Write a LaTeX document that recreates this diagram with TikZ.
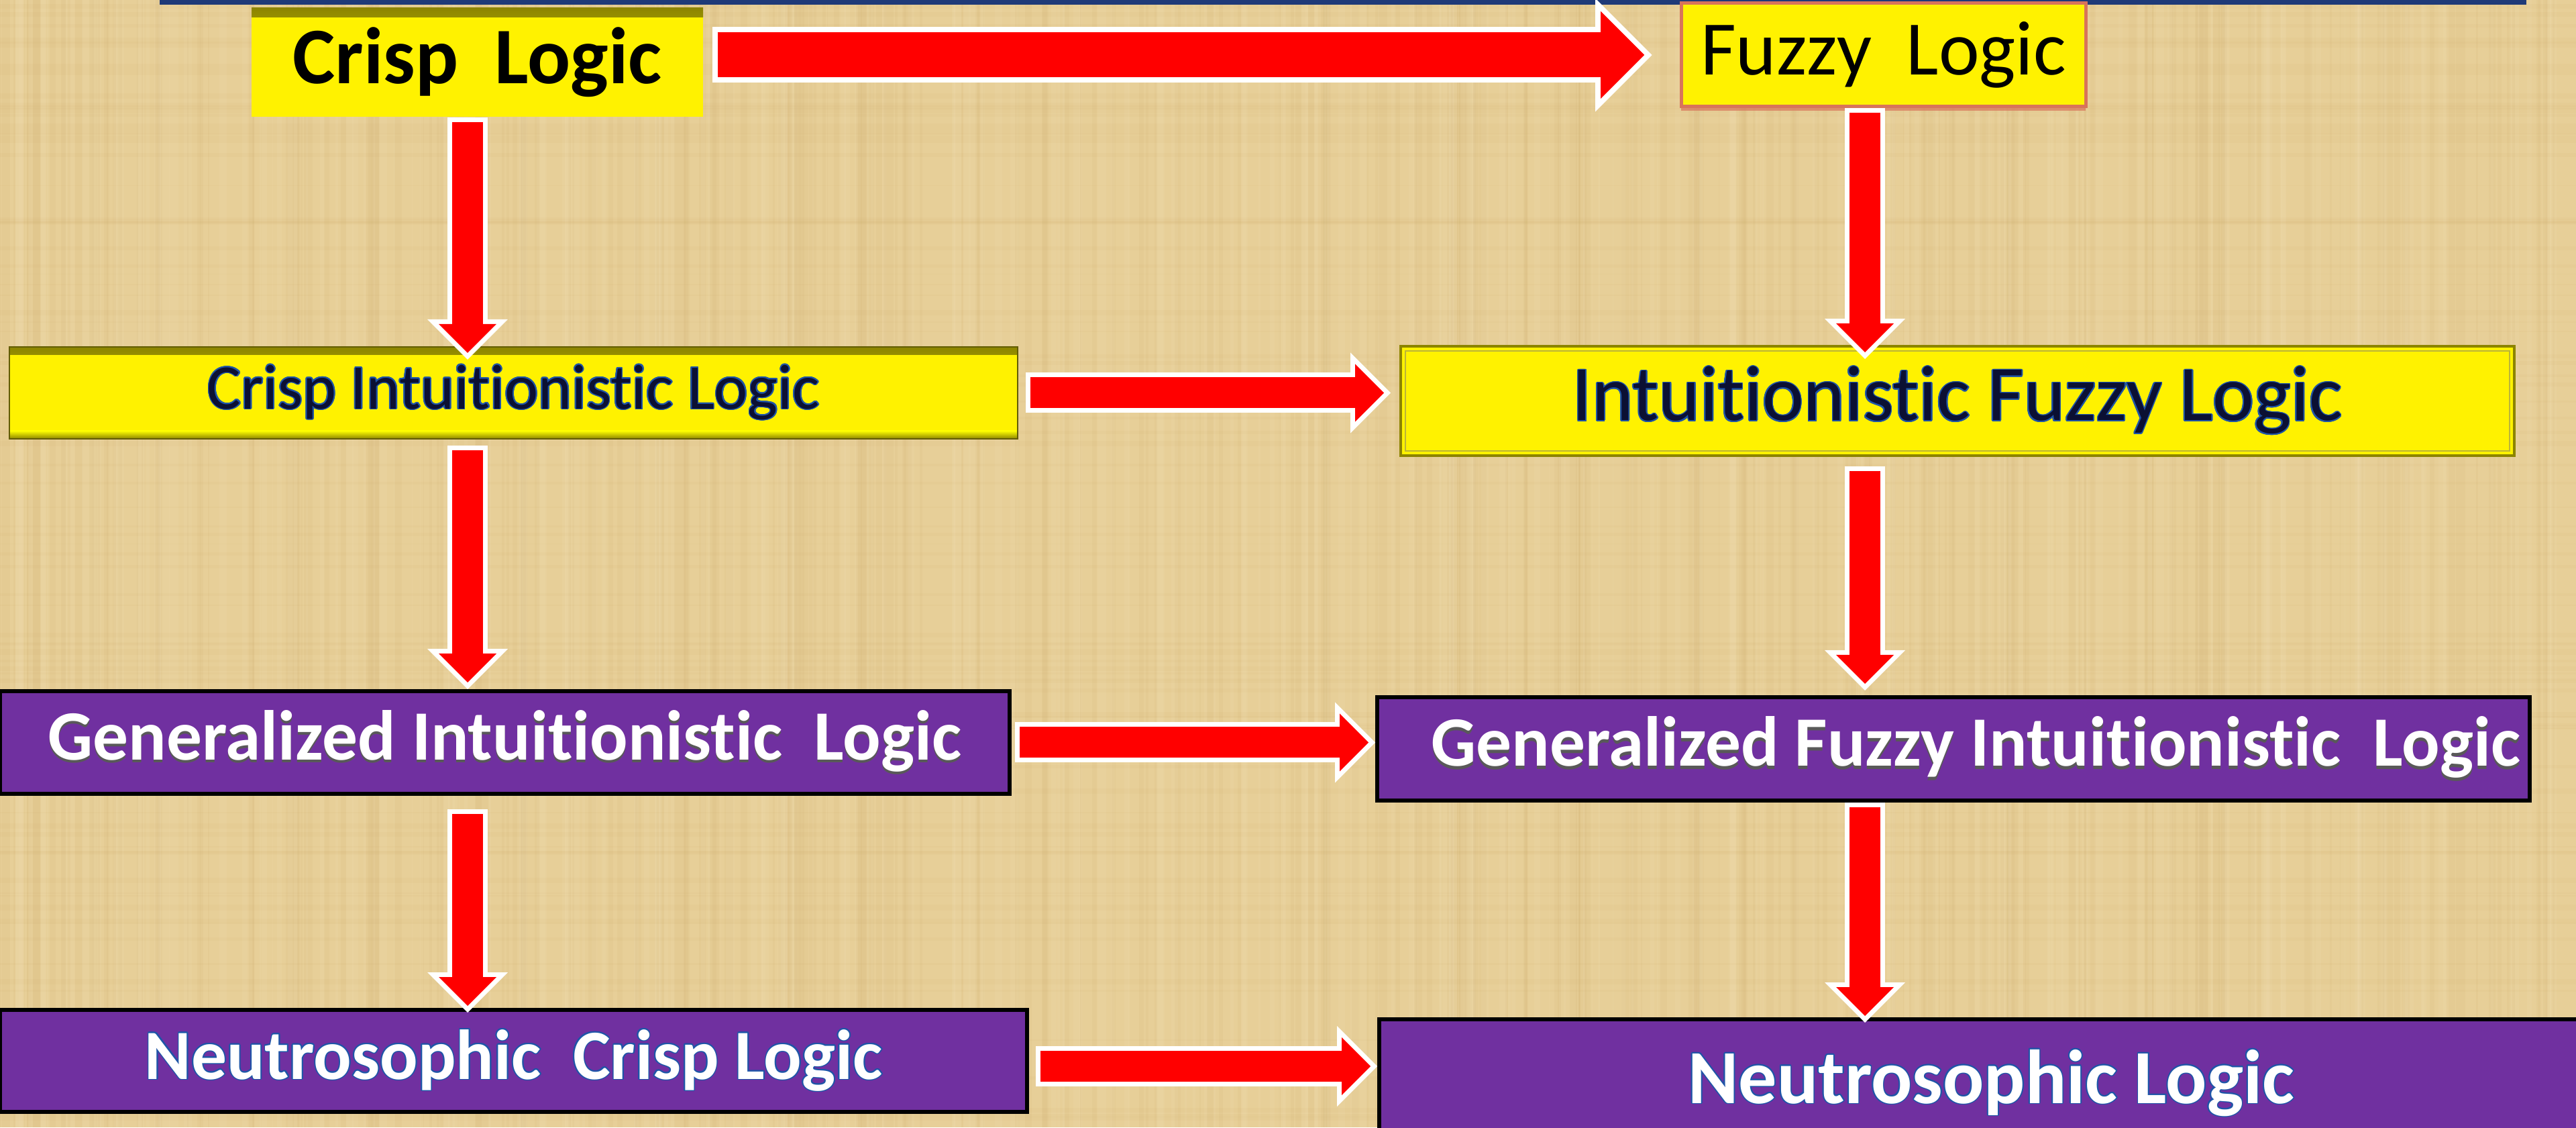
\documentclass[tikz,border=0pt]{standalone}
\usepackage{fontspec}
\setmainfont{Carlito}[Ligatures={NoCommon,TeX}]
\usepackage{contour}
\usetikzlibrary{arrows.meta,calc,positioning,shadows}
\definecolor{papyrus}{HTML}{E7CF98}
\definecolor{papyrusdark}{HTML}{C9A35E}
\definecolor{papyruslight}{HTML}{F5E6C2}
\definecolor{logicpurple}{HTML}{7030A0}
\definecolor{titlenavy}{HTML}{1F3A78}
\definecolor{textnavy}{HTML}{0B1033}
\definecolor{glowblue}{HTML}{1F55A8}
\definecolor{edgeolive}{HTML}{8C8400}
\definecolor{glowred}{HTML}{D8745A}
\contourlength{0.5pt}
\newcommand{\embossed}[1]{\makebox[0pt][l]{\raisebox{-1.2pt}{\color{gray!70!black}#1}}#1}

\begin{document}
\begin{tikzpicture}[
  box/.style={inner sep=0pt,align=center},
  ybox/.style={box,fill=yellow},
  pbox/.style={box,fill=logicpurple,draw=black,line width=0.06cm,text=white},
  topbevel/.style={path picture={
    \shade[top color=edgeolive,bottom color=yellow]
      (path picture bounding box.north west) rectangle
      ([yshift=-0.14cm]path picture bounding box.north east);}},
  bevel/.style={draw=edgeolive!70!black,line width=0.02cm,path picture={
    \shade[top color=edgeolive,bottom color=yellow]
      (path picture bounding box.north west) rectangle
      ([yshift=-0.12cm]path picture bounding box.north east);
    \shade[bottom color=edgeolive,top color=yellow]
      (path picture bounding box.south west) rectangle
      ([yshift=0.12cm]path picture bounding box.south east);}},
  inset/.style={draw=edgeolive,line width=0.04cm,path picture={
    \draw[yellow!70!black,line width=0.02cm]
      ([shift={(0.07,-0.07)}]path picture bounding box.north west) rectangle
      ([shift={(-0.07,0.07)}]path picture bounding box.south east);}},
  arr/.style={draw=red,line width=0.46cm,
    -{Triangle[width=0.86cm,length=0.43cm,line width=0pt]},
    shorten >=0.1cm,shorten <=0.07cm,
    preaction={draw=white,line width=0.6cm,
      -{Triangle[width=1.2cm,length=0.6cm,line width=0pt]},
      shorten >=0pt,shorten <=0pt}},
  bigarr/.style={draw=red,line width=0.67cm,
    -{Triangle[width=1.3cm,length=0.65cm,line width=0pt]},
    shorten >=0.113cm,shorten <=0.08cm,
    preaction={draw=white,line width=0.83cm,
      -{Triangle[width=1.69cm,length=0.845cm,line width=0pt]},
      shorten >=0pt,shorten <=0pt}}]
  \useasboundingbox (0,0) rectangle (38.4,16.8);
  % papyrus background
  \fill[papyrus] (0,0) rectangle (38.4,16.8);
  \pgfmathsetseed{11}
  \foreach \i in {1,...,260}{
    \pgfmathsetmacro\xx{rnd*38.4}
    \pgfmathsetmacro\ww{0.01+rnd*0.12}
    \fill[papyrusdark,opacity=0.08] (\xx,0) rectangle ++(\ww,16.8);
    \pgfmathsetmacro\xx{rnd*38.4}
    \pgfmathsetmacro\ww{0.01+rnd*0.12}
    \fill[papyruslight,opacity=0.1] (\xx,0) rectangle ++(\ww,16.8);
  }
  \foreach \i in {1,...,90}{
    \pgfmathsetmacro\yy{rnd*16.8}
    \pgfmathsetmacro\hh{0.01+rnd*0.08}
    \fill[papyrusdark,opacity=0.06] (0,\yy) rectangle ++(38.4,\hh);
  }
  \fill[titlenavy] (2.38,16.73) rectangle (37.66,16.8);

  \coordinate (lcol) at (6.97,0);
  \coordinate (rcol) at (27.80,0);

  % crisp side
  \node[ybox,topbevel,minimum width=6.73cm,minimum height=1.62cm,
    font=\fontsize{34}{40}\selectfont\bfseries] (crisp) at (7.115,15.87)
    {Crisp~ Logic};
  \node[ybox,bevel,minimum width=15.03cm,minimum height=1.37cm,
    font=\fontsize{27}{32}\selectfont,text=textnavy] (cint) at (7.655,10.945)
    {\contour{glowblue}{Crisp Intuitionistic Logic}};
  \node[pbox,minimum width=15.05cm,minimum height=1.53cm,
    font=\fontsize{30}{36}\selectfont\bfseries] (gint) at (7.525,5.735)
    {\embossed{Generalized Intuitionistic~ Logic}};
  \node[pbox,minimum width=15.31cm,minimum height=1.52cm,
    font=\fontsize{30}{36}\selectfont\bfseries] (ncrisp) at (7.655,0.99)
    {\contour{glowblue}{Neutrosophic~ Crisp Logic}};

  % fuzzy side
  \node[ybox,draw=glowred,line width=0.05cm,
    drop shadow={fill=glowred,shadow xshift=0pt,shadow yshift=-0.06cm,opacity=0.7},
    minimum width=6.03cm,minimum height=1.54cm,
    font=\fontsize{32.7}{38}\selectfont] (fuzzy) at (28.075,15.98)
    {Fuzzy~ Logic};
  \node[ybox,inset,minimum width=16.6cm,minimum height=1.63cm,
    font=\fontsize{33.3}{40}\selectfont,text=textnavy] (ifuzzy) at (29.18,10.825)
    {\contour{glowblue}{Intuitionistic Fuzzy Logic}};
  \node[pbox,minimum width=17.18cm,minimum height=1.54cm,
    font=\fontsize{30}{36}\selectfont\bfseries] (gfi) at (29.12,5.64)
    {\hspace*{0.66cm}\embossed{Generalized Fuzzy Intuitionistic~ Logic}};
  \node[pbox,minimum width=18.24cm,minimum height=1.91cm,
    font=\fontsize{32.5}{39}\selectfont\bfseries] (neutro) at (29.68,0.655)
    {\contour{glowblue}{Neutrosophic Logic}};

  % across
  \draw[bigarr] ([xshift=0.13cm]crisp.east |- fuzzy.west)
    -- ([xshift=-0.41cm]fuzzy.west);
  \draw[arr] ([xshift=0.11cm]cint.east)
    -- ([xshift=-0.13cm]cint.east -| ifuzzy.west);
  \draw[arr] ([xshift=0.05cm]gint.east) -- (gint.east -| gfi.west);
  \draw[arr] ([xshift=0.1cm,yshift=-0.08cm]ncrisp.east)
    -- ([yshift=-0.08cm]ncrisp.east -| neutro.west);

  % down
  \draw[arr] (crisp.south -| lcol) -- ([yshift=-0.2cm]cint.north -| lcol);
  \draw[arr] ([yshift=-0.09cm]cint.south -| lcol) -- (gint.north -| lcol);
  \draw[arr] ([yshift=-0.2cm]gint.south -| lcol)
    -- ([yshift=-0.07cm]ncrisp.north -| lcol);
  \draw[arr] (fuzzy.south -| rcol) -- ([yshift=-0.21cm]ifuzzy.north -| rcol);
  \draw[arr] ([yshift=-0.14cm]ifuzzy.south -| rcol)
    -- ([yshift=0.07cm]gfi.north -| rcol);
  \draw[arr] (gfi.south -| rcol) -- ([yshift=-0.08cm]neutro.north -| rcol);
\end{tikzpicture}
\end{document}
